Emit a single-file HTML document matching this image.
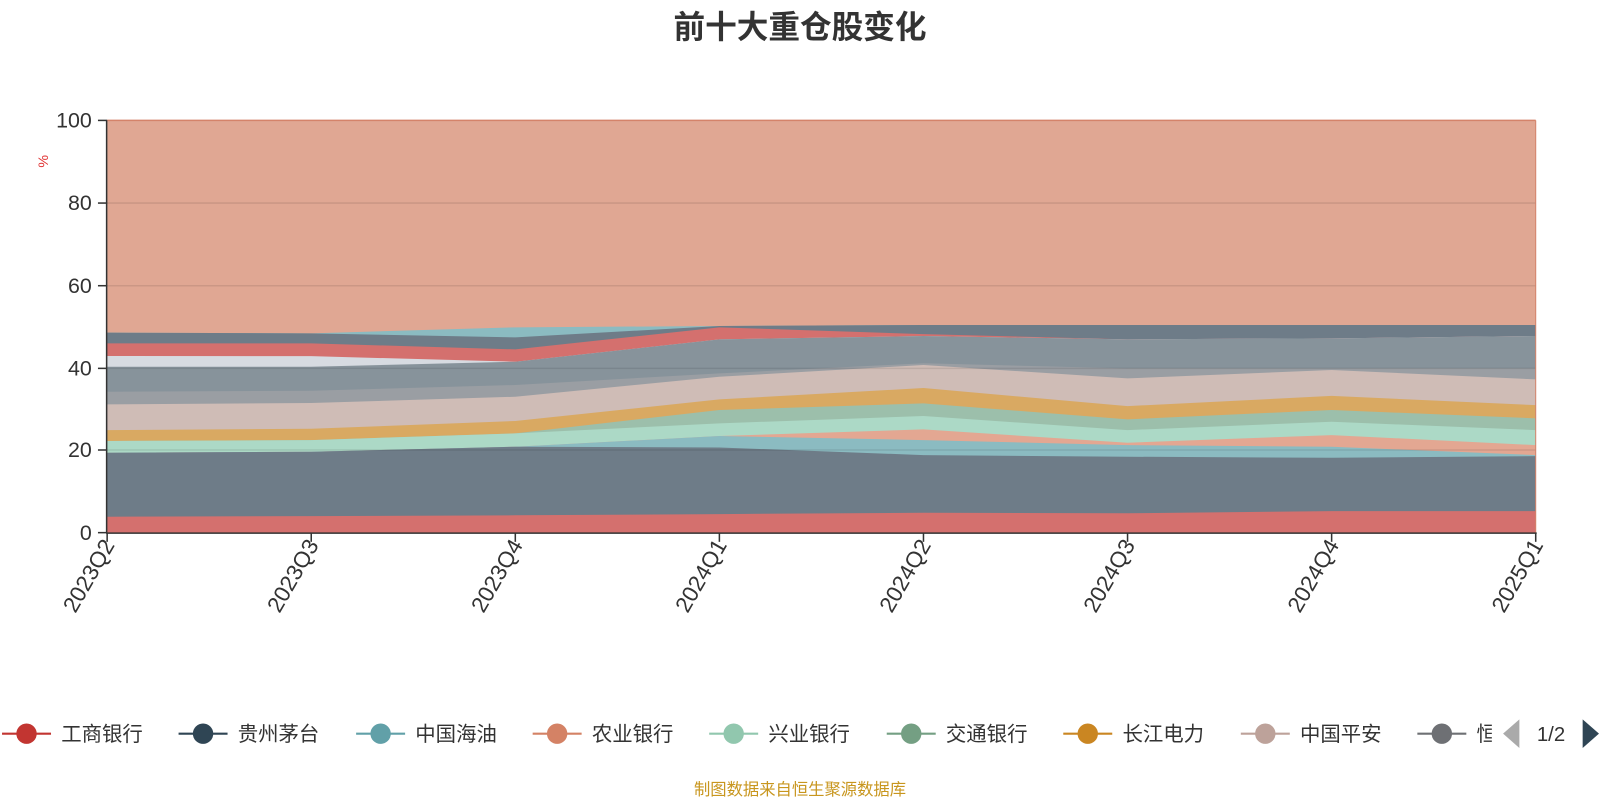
<!DOCTYPE html>
<html><head><meta charset="utf-8"><style>
body{margin:0;background:#fff;width:1600px;height:800px;overflow:hidden}
svg{display:block}
text{font-family:"Liberation Sans","Noto Sans CJK SC",sans-serif}
</style></head><body>
<svg width="1600" height="800" viewBox="0 0 1568 784">
<text x="784" y="37" text-anchor="middle" font-size="31" font-weight="bold" fill="#333">前十大重仓股变化</text>
<rect x="105" y="118" width="1400" height="404" fill="#e0a793"/>
<g stroke="none">
<polygon fill="#8bbbc1" points="105,326 305,326.7 505,320.8 705,319.5 905,318.5 1105,318.5 1305,318.5 1505,318.5 1505,522 105,522"/>
<polygon fill="#6e7c88" points="105,326 305,326.7 505,330.6 705,319.5 905,318.5 1105,318.5 1305,318.5 1505,318.5 1505,522 105,522"/>
<polygon fill="#d4706e" points="105,336.5 305,336.5 505,342.4 705,320.8 905,327.4 1105,332.6 1305,331.6 1505,329.3 1505,522 105,522"/>
<polygon fill="#d7dbe1" points="105,348.9 305,349 505,354.5 705,332.6 905,329.3 1105,332.6 1305,331.6 1505,329.3 1505,522 105,522"/>
<polygon fill="#87939b" points="105,359.4 305,359.4 505,354.5 705,332.6 905,329.3 1105,332.6 1305,331.6 1505,329.3 1505,522 105,522"/>
<polygon fill="#9a9ea3" points="105,383.9 305,382.9 505,377.3 705,365.9 905,356 1105,361 1305,361 1505,361 1505,522 105,522"/>
<polygon fill="#cfbcb6" points="105,396.3 305,395 505,388.8 705,369.2 905,357.7 1105,370.8 1305,362.6 1505,371.8 1505,522 105,522"/>
<polygon fill="#d9a962" points="105,421.5 305,420.2 505,412.6 705,391.4 905,380.3 1105,398 1305,388 1505,397 1505,522 105,522"/>
<polygon fill="#9cbfab" points="105,432.2 305,431.3 505,424.7 705,401.8 905,395.3 1105,411 1305,401.8 1505,410 1505,522 105,522"/>
<polygon fill="#acd9c6" points="105,432.2 305,431.3 505,424.7 705,414.9 905,407.7 1105,421.5 1305,413.3 1505,421.5 1505,522 105,522"/>
<polygon fill="#e3a792" points="105,443.7 305,442.7 505,437.8 705,427.3 905,420.8 1105,433.9 1305,426.4 1505,436.2 1505,522 105,522"/>
<polygon fill="#8bbbc1" points="105,443.7 305,442.7 505,437.8 705,427.3 905,431.3 1105,436.2 1305,437.8 1505,446 1505,522 105,522"/>
<polygon fill="#6e7c88" points="105,443.7 305,442.7 505,437.8 705,438.5 905,446 1105,447.6 1305,448.6 1505,447 1505,522 105,522"/>
<polygon fill="#d4706e" points="105,506.4 305,505.8 505,505 705,503.8 905,502.5 1105,503 1305,500.9 1505,500.9 1505,522 105,522"/>
</g>
<g stroke="rgba(0,0,0,0.09)" stroke-width="1.5">
<line x1="105" y1="199" x2="1505" y2="199"/><line x1="105" y1="280" x2="1505" y2="280"/>
<line x1="105" y1="361" x2="1505" y2="361"/><line x1="105" y1="441" x2="1505" y2="441"/>
</g>
<line x1="105" y1="118" x2="1505" y2="118" stroke="#d4836a" stroke-width="1.5"/>
<line x1="1505" y1="118" x2="1505" y2="522" stroke="#d4836a" stroke-width="1"/>
<g stroke="#333" stroke-width="1.5">
<line x1="104.5" y1="118" x2="104.5" y2="522"/>
<line x1="96" y1="118" x2="105" y2="118"/><line x1="96" y1="199" x2="105" y2="199"/><line x1="96" y1="280" x2="105" y2="280"/><line x1="96" y1="361" x2="105" y2="361"/><line x1="96" y1="441" x2="105" y2="441"/><line x1="96" y1="522" x2="105" y2="522"/>
<line x1="104" y1="522.5" x2="1506" y2="522.5"/>
<line x1="105" y1="522" x2="105" y2="531"/><line x1="305" y1="522" x2="305" y2="531"/><line x1="505" y1="522" x2="505" y2="531"/><line x1="705" y1="522" x2="705" y2="531"/><line x1="905" y1="522" x2="905" y2="531"/><line x1="1105" y1="522" x2="1105" y2="531"/><line x1="1305" y1="522" x2="1305" y2="531"/><line x1="1505" y1="522" x2="1505" y2="531"/>
</g>
<g font-size="21" fill="#333" text-anchor="end">
<text x="90" y="125">100</text><text x="90" y="206">80</text><text x="90" y="287">60</text><text x="90" y="368">40</text><text x="90" y="448">20</text><text x="90" y="529">0</text>
</g>
<text x="0" y="0" font-size="14" fill="#e03030" transform="translate(47,158) rotate(-90)" text-anchor="middle">%</text>
<g font-size="22" fill="#333" text-anchor="end">
<text transform="translate(113,534) rotate(-60)">2023Q2</text>
<text transform="translate(313,534) rotate(-60)">2023Q3</text>
<text transform="translate(513,534) rotate(-60)">2023Q4</text>
<text transform="translate(713,534) rotate(-60)">2024Q1</text>
<text transform="translate(913,534) rotate(-60)">2024Q2</text>
<text transform="translate(1113,534) rotate(-60)">2024Q3</text>
<text transform="translate(1313,534) rotate(-60)">2024Q4</text>
<text transform="translate(1513,534) rotate(-60)">2025Q1</text>
</g>
<defs><clipPath id="lc"><rect x="0" y="690" width="1462" height="60"/></clipPath></defs>
<g clip-path="url(#lc)" font-size="20" fill="#333">
<g><line x1="2" y1="719" x2="50" y2="719" stroke="#c23531" stroke-width="2"/><circle cx="26" cy="719" r="10" fill="#c23531"/><text x="60" y="726">工商银行</text></g>
<g><line x1="175" y1="719" x2="223" y2="719" stroke="#2f4554" stroke-width="2"/><circle cx="199" cy="719" r="10" fill="#2f4554"/><text x="233" y="726">贵州茅台</text></g>
<g><line x1="349" y1="719" x2="397" y2="719" stroke="#61a0a8" stroke-width="2"/><circle cx="373" cy="719" r="10" fill="#61a0a8"/><text x="407" y="726">中国海油</text></g>
<g><line x1="522" y1="719" x2="570" y2="719" stroke="#d48265" stroke-width="2"/><circle cx="546" cy="719" r="10" fill="#d48265"/><text x="580" y="726">农业银行</text></g>
<g><line x1="695" y1="719" x2="743" y2="719" stroke="#91c7ae" stroke-width="2"/><circle cx="719" cy="719" r="10" fill="#91c7ae"/><text x="753" y="726">兴业银行</text></g>
<g><line x1="869" y1="719" x2="917" y2="719" stroke="#749f83" stroke-width="2"/><circle cx="893" cy="719" r="10" fill="#749f83"/><text x="927" y="726">交通银行</text></g>
<g><line x1="1042" y1="719" x2="1090" y2="719" stroke="#ca8622" stroke-width="2"/><circle cx="1066" cy="719" r="10" fill="#ca8622"/><text x="1100" y="726">长江电力</text></g>
<g><line x1="1216" y1="719" x2="1264" y2="719" stroke="#bda29a" stroke-width="2"/><circle cx="1240" cy="719" r="10" fill="#bda29a"/><text x="1274" y="726">中国平安</text></g>
<g><line x1="1389" y1="719" x2="1437" y2="719" stroke="#6e7074" stroke-width="2"/><circle cx="1413" cy="719" r="10" fill="#6e7074"/><text x="1447" y="726">恒</text></g>
</g>
<polygon points="1489,705 1489,733 1473,719" fill="#aaa"/>
<text x="1520" y="726" font-size="20" fill="#333" text-anchor="middle">1/2</text>
<polygon points="1551,705 1551,733 1567,719" fill="#2f4554"/>
<text x="784" y="779" font-size="16" fill="#c8961e" text-anchor="middle">制图数据来自恒生聚源数据库</text>
</svg>
</body></html>
